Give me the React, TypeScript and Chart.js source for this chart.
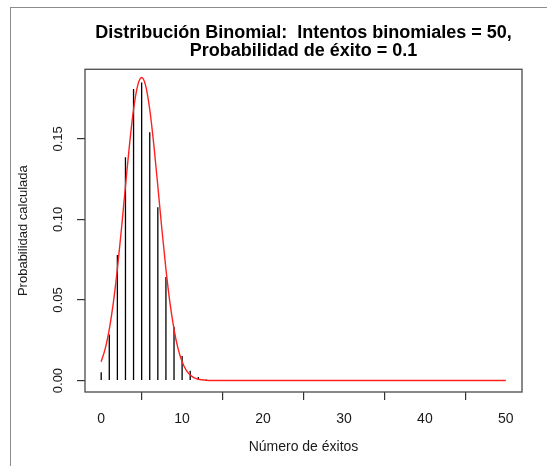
import React, { useEffect, useRef } from "react";
import { Chart, registerables } from "chart.js";

Chart.register(...registerables);

// ---- Data ----
const successes = [
  0, 1, 2, 3, 4, 5, 6, 7, 8, 9, 10, 11, 12, 13, 14, 15, 16, 17, 18, 19, 20,
  21, 22, 23, 24, 25, 26, 27, 28, 29, 30, 31, 32, 33, 34, 35, 36, 37, 38, 39,
  40, 41, 42, 43, 44, 45, 46, 47, 48, 49, 50,
];
const probabilities = [
  0.00515, 0.02863, 0.07794, 0.13857, 0.1809, 0.18492, 0.1541, 0.10763,
  0.06428, 0.03333, 0.01518, 0.00613, 0.00222, 0.00072, 0.00021, 0.00006,
  0.00001, 0, 0, 0, 0, 0, 0, 0, 0, 0, 0, 0, 0, 0, 0, 0, 0, 0, 0, 0, 0, 0, 0,
  0, 0, 0, 0, 0, 0, 0, 0, 0, 0, 0, 0,
];
const curveX = [
  0, 0.5, 1, 1.5, 2, 2.5, 3, 3.5, 4, 4.5, 5, 5.5, 6, 6.5, 7, 7.5, 8, 8.5, 9,
  9.5, 10, 10.5, 11, 11.5, 12, 13, 14, 15, 16, 20, 30, 40, 50,
];
const curveY = [
  0.0117, 0.01982, 0.03178, 0.04822, 0.06918, 0.09392, 0.12059, 0.14646,
  0.16828, 0.18291, 0.18806, 0.18291, 0.16828, 0.14646, 0.12059, 0.09392,
  0.06918, 0.04822, 0.03178, 0.01982, 0.0117, 0.00653, 0.00344, 0.00172,
  0.00081, 0.00015, 0.00002, 0, 0, 0, 0, 0, 0,
];
const xTicks = [0, 10, 20, 30, 40, 50];
const yTicks = [0, 0.05, 0.1, 0.15];
const titleLines = [
  "Distribución Binomial:  Intentos binomiales = 50,",
  "Probabilidad de éxito = 0.1",
];
const xTitle = "Número de éxitos";
const yTitle = "Probabilidad calculada";

const FONT = "'Liberation Sans', Arial, Helvetica, sans-serif";

const boxPlugin = {
  id: "plotBox",
  afterDatasetsDraw(chart: any) {
    const { ctx, chartArea } = chart;
    ctx.save();
    ctx.strokeStyle = "#4a4a4a";
    ctx.lineWidth = 1.3;
    ctx.strokeRect(
      chartArea.left,
      chartArea.top,
      chartArea.right - chartArea.left,
      chartArea.bottom - chartArea.top
    );
    ctx.restore();
  },
};

export default function App() {
  const ref = useRef<HTMLCanvasElement | null>(null);

  useEffect(() => {
    if (!ref.current) return;
    const chart = new Chart(ref.current, {
      type: "bar",
      data: {
        datasets: [
          {
            type: "bar",
            data: successes.map((x, i) => ({ x, y: probabilities[i] })),
            backgroundColor: "#000000",
            borderWidth: 0,
            inflateAmount: 0,
            barThickness: 1.3,
            grouped: false,
            order: 2,
          } as any,
          {
            type: "line",
            data: curveX.map((x, i) => ({ x, y: curveY[i] })),
            borderColor: "#ff2020",
            borderWidth: 1.4,
            pointRadius: 0,
            cubicInterpolationMode: "monotone",
            fill: false,
            order: 1,
          } as any,
        ],
      },
      options: {
        responsive: false,
        animation: false,
        events: [],
        layout: { padding: { left: 0, right: 25, top: 0, bottom: 0 } },
        plugins: {
          legend: { display: false },
          tooltip: { enabled: false },
          title: {
            display: true,
            text: titleLines,
            position: "top",
            fullSize: false,
            align: "center",
            color: "#000000",
            font: { family: FONT, size: 18, weight: "bold", lineHeight: 1.03 },
            padding: { top: 23.5, bottom: 8.7 },
          },
        },
        scales: {
          x: {
            type: "linear",
            min: -2,
            max: 52,
            offset: false,
            afterBuildTicks: (s: any) => {
              s.ticks = xTicks.map((v) => ({ value: v }));
            },
            afterFit: (s: any) => {
              s.height = 74;
            },
            grid: {
              display: true,
              drawOnChartArea: false,
              drawTicks: true,
              tickLength: 8,
              color: "#333333",
              lineWidth: 1.2,
            },
            border: { display: false },
            ticks: {
              color: "#1a1a1a",
              font: { family: FONT, size: 14 },
              padding: 11,
              maxRotation: 0,
              minRotation: 0,
              callback: (v: any) => String(v),
            },
            title: {
              display: true,
              text: xTitle,
              color: "#1a1a1a",
              font: { family: FONT, size: 14 },
              padding: { top: 0, bottom: 10 },
            },
          },
          y: {
            type: "linear",
            min: -0.0071,
            max: 0.1932,
            afterBuildTicks: (s: any) => {
              s.ticks = yTicks.map((v) => ({ value: v }));
            },
            afterFit: (s: any) => {
              s.width = 85;
            },
            grid: {
              display: true,
              drawOnChartArea: false,
              drawTicks: true,
              tickLength: 8,
              color: "#333333",
              lineWidth: 1.2,
            },
            border: { display: false },
            ticks: {
              color: "#1a1a1a",
              font: { family: FONT, size: 13 },
              padding: 6,
              minRotation: 90,
              maxRotation: 90,
              crossAlign: "center",
              callback: (v: any) => Number(v).toFixed(2),
            },
            title: {
              display: true,
              text: yTitle,
              color: "#1a1a1a",
              font: { family: FONT, size: 13 },
              padding: { top: 15.5, bottom: 0 },
            },
          },
        },
      },
      plugins: [boxPlugin],
    } as any);
    return () => chart.destroy();
  }, []);

  return (
    <div
      style={{
        position: "fixed",
        left: 0,
        top: 0,
        width: 547,
        height: 466,
        overflow: "hidden",
        background: "#ffffff",
      }}
    >
      <div
        style={{
          position: "absolute",
          left: 10,
          top: 7,
          width: 700,
          height: 600,
          borderLeft: "1px solid #8c8c8c",
          borderTop: "1px solid #8c8c8c",
        }}
      />
      <canvas
        ref={ref}
        width={547}
        height={466}
        style={{ position: "absolute", left: 0, top: 0, width: 547, height: 466 }}
      />
    </div>
  );
}
